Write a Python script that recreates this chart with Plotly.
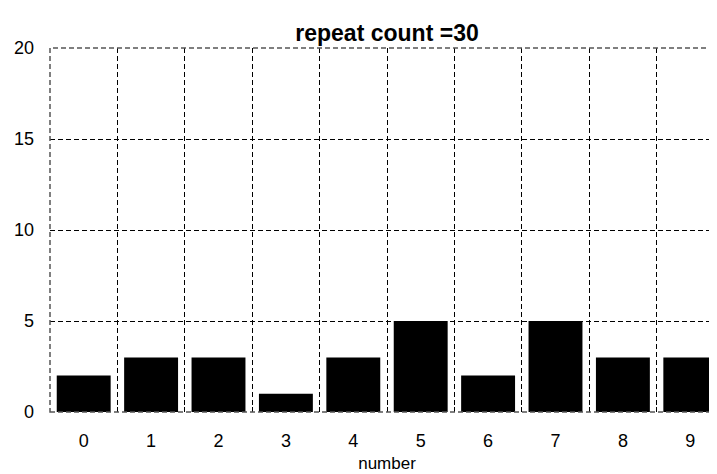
import plotly.graph_objects as go

categories = ["0", "1", "2", "3", "4", "5", "6", "7", "8", "9"]
counts = [2, 3, 3, 1, 3, 5, 2, 5, 3, 3]
title_text = "repeat count =30"
x_title = "number"
y_ticks = [0, 5, 10, 15, 20]

fig = go.Figure()
fig.add_trace(go.Bar(
    x=categories, y=counts,
    marker=dict(color="black", line=dict(width=0)),
    width=0.8,
))

dash = "5px,3px"
grid = dict(showgrid=True, gridcolor="black", gridwidth=1, griddash=dash)

fig.update_layout(
    width=717, height=474,
    margin=dict(l=42, r=1, t=40, b=70),
    paper_bgcolor="white", plot_bgcolor="white",
    showlegend=False,
    title=dict(text="<b>" + title_text + "</b>", x=0.5, xref="paper", xanchor="center",
               y=0.948, yanchor="middle",
               font=dict(family="Liberation Sans, Arial, sans-serif", size=23, color="black")),
    font=dict(family="Liberation Sans, Arial, sans-serif", color="black"),
    bargap=0.2,
    shapes=[dict(type="rect", xref="paper", yref="paper", x0=0, x1=1, y0=0, y1=1,
                 line=dict(color="#555555", width=1.5, dash=dash), layer="above")],
)
fig.update_xaxes(
    type="category", range=[-0.5, 9.5], tickson="boundaries", automargin=False,
    ticks="inside", ticklen=5, tickcolor="black", mirror="ticks",
    showline=False, zeroline=False,
    tickfont=dict(size=18), ticklabelstandoff=16,
    title=dict(text=x_title, font=dict(size=17), standoff=7),
    **grid,
)
fig.update_yaxes(
    range=[0, 20], tickvals=y_ticks, ticks="inside", ticklen=5, tickcolor="black",
    mirror="ticks", showline=False, zeroline=False, automargin=False,
    tickfont=dict(size=18), ticklabelstandoff=15,
    **grid,
)
fig.write_html("out.html")
